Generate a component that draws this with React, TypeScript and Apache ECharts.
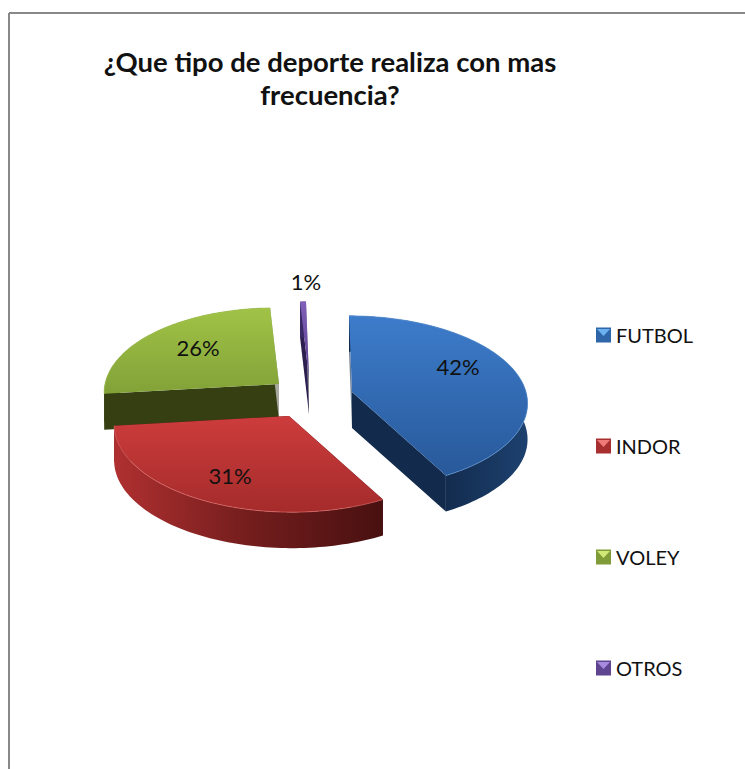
import React, { useEffect, useRef } from "react";
import * as echarts from "echarts";

const titleLines = ["¿Que tipo de deporte realiza con mas", "frecuencia?"];
const categories = ["FUTBOL", "INDOR", "VOLEY", "OTROS"];
const percentages = [42.2, 31, 26.2, 0.6];
const legendColors = ["#2f66a8", "#a82f2f", "#7f9c38", "#5f4490"];

// Layout and styling of the exploded, tilted pie
const FONT = "Lato, 'Open Sans', sans-serif";
const RX = 174;
const RY = 85;
const PERSPECTIVE = 0.116;
const SHEAR = 3;
const DEPTH = 36;

const sliceStyles = [
  { ax: 352, ay: 392, lx: 458, ly: 366, top: ["#3d7ccb", "#28599a"], rim: "#5f95d6", wallStart: "#6f7f95", wallEnd: "#122a4c", outer: ["#122a4c", "#122a4c", "#1d416f"] },
  { ax: 289, ay: 416, lx: 230, ly: 475, top: ["#cd3c3c", "#a52b2b"], rim: "#dc6a68", wallStart: "#4a1010", wallEnd: "#4a1010", outer: ["#b03030", "#741d1d", "#481010"] },
  { ax: 279, ay: 384, lx: 198, ly: 347, top: ["#a0c346", "#82a238"], rim: "#a9c95a", wallStart: "#353f12", wallEnd: "#a7a9a0", outer: ["#353f12", "#353f12"] },
  { ax: 309, ay: 378, lx: 306, ly: 281, top: ["#8060b8", "#5a3f90"], rim: "#8060b8", wallStart: "#2c1f4f", wallEnd: "#8f8f98", outer: ["#3a2a66", "#3a2a66"] },
];

const total = percentages.reduce((a, b) => a + b, 0);

function project(ax: number, ay: number, angle: number): number[] {
  const u = Math.sin(angle);
  const v = -Math.cos(angle);
  const s = 1 / (1 - PERSPECTIVE * v);
  return [ax + RX * u * s + SHEAR * v, ay + RY * v * s];
}

function grad(colors: string[], horizontal: boolean) {
  const stops = colors.map((color, i) => ({ offset: i / (colors.length - 1), color }));
  return new echarts.graphic.LinearGradient(0, 0, horizontal ? 1 : 0, horizontal ? 0 : 1, stops);
}

function renderSlice(index: number) {
  return () => {
    const st = sliceStyles[index];
    const before = percentages.slice(0, index).reduce((a, b) => a + b, 0);
    const a0 = (before / total) * Math.PI * 2;
    const a1 = ((before + percentages[index]) / total) * Math.PI * 2;
    const steps = Math.max(4, Math.round((a1 - a0) * 40));
    const arc: number[][] = [];
    for (let i = 0; i <= steps; i++) arc.push(project(st.ax, st.ay, a0 + ((a1 - a0) * i) / steps));
    const down = (p: number[]) => [p[0], p[1] + DEPTH];
    const apex = [st.ax, st.ay];
    const first = arc[0];
    const last = arc[arc.length - 1];
    const poly = (points: number[][], fill: any) => ({ type: "polygon", shape: { points }, style: { fill, stroke: null } });
    return {
      type: "group",
      children: [
        poly([apex, first, down(first), down(apex)], st.wallStart),
        poly([apex, last, down(last), down(apex)], st.wallEnd),
        poly([...arc, ...arc.slice().reverse().map(down)], grad(st.outer, true)),
        poly([apex, ...arc], grad(st.top, false)),
        {
          type: "polyline",
          shape: { points: arc },
          style: { fill: null, stroke: st.rim, lineWidth: 1, opacity: 0.7 },
        },
        {
          type: "text",
          x: st.lx,
          y: st.ly,
          z2: 10,
          style: {
            text: `${Math.round(percentages[index])}%`,
            fill: "#111111",
            font: `22px ${FONT}`,
            align: "center",
            verticalAlign: "middle",
          },
        },
      ],
    };
  };
}

// Painter's order: back slices first
const drawOrder = [2, 3, 0, 1];

export default function App() {
  const ref = useRef<HTMLDivElement>(null);
  useEffect(() => {
    const chart = echarts.init(ref.current as HTMLDivElement, null, { renderer: "svg" });
    const seriesByIndex = categories.map((name, i) => ({
      type: "custom",
      name,
      coordinateSystem: "none",
      renderItem: renderSlice(i),
      data: [percentages[i]],
      z: 2 + drawOrder.indexOf(i),
      itemStyle: { color: legendColors[i] },
      silent: true,
    }));
    const legendY = [328, 439, 550, 661];
    const highlight = ["#6cb2f0", "#f07a78", "#cfe878", "#a88ae0"];
    chart.setOption({
      animation: false,
      backgroundColor: "#ffffff",
      color: legendColors,
      title: {
        text: titleLines.join("\n"),
        left: 330,
        top: 45,
        padding: 0,
        textAlign: "center",
        textStyle: { fontFamily: FONT, fontSize: 27.5, fontWeight: "bold", color: "#111111", lineHeight: 33 },
      },
      legend: {
        orient: "vertical",
        left: 596,
        top: 325,
        padding: 0,
        itemWidth: 15,
        itemHeight: 15,
        itemGap: 91,
        icon: "rect",
        selectedMode: false,
        data: categories,
        textStyle: { fontFamily: FONT, fontSize: 20, color: "#111111", padding: [0, 0, 0, 0] },
      },
      graphic: [
        { type: "line", shape: { x1: 9, y1: 13, x2: 745, y2: 13 }, style: { stroke: "#888888", lineWidth: 2 } },
        { type: "line", shape: { x1: 9, y1: 13, x2: 9, y2: 769 }, style: { stroke: "#888888", lineWidth: 2 } },
        ...legendY.map((y, i) => ({
          type: "polygon",
          z: 20,
          shape: { points: [[597, y + 1], [610, y + 1], [603.5, y + 8]] },
          style: { fill: highlight[i] },
        })),
      ],
      series: seriesByIndex,
    });
    return () => chart.dispose();
  }, []);
  return <div ref={ref} style={{ position: "absolute", left: 0, top: 0, width: 745, height: 769 }} />;
}
